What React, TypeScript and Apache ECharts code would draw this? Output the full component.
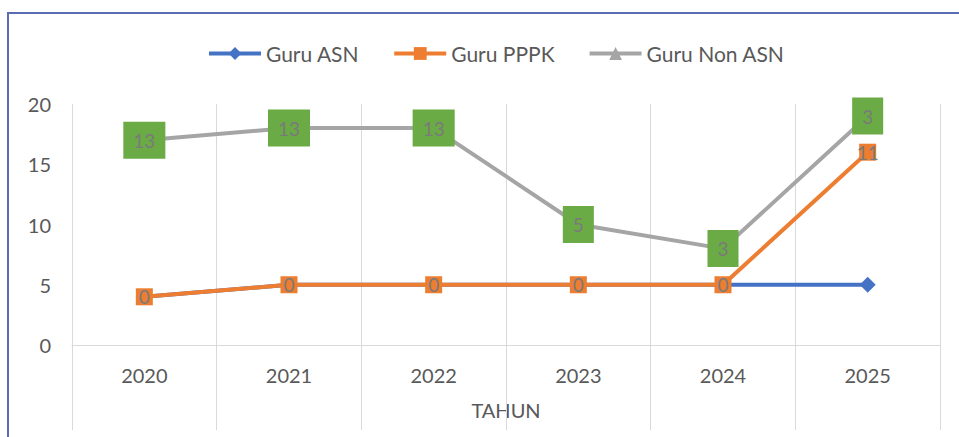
import React, { useEffect, useRef } from "react";
import * as echarts from "echarts";

const years = ["2020", "2021", "2022", "2023", "2024", "2025"];
const guruASN = [4, 5, 5, 5, 5, 5];
const guruPPPK = [0, 0, 0, 0, 0, 11];
const guruNonASN = [13, 13, 13, 5, 3, 3];
const yTicks = { min: 0, max: 20, interval: 5 };

const FONT = "Lato";
const TEXT = "#595959";
const GRIDC = "#d9d9d9";

export default function App() {
  const ref = useRef<HTMLDivElement>(null);
  useEffect(() => {
    if (!ref.current) return;
    const chart = echarts.init(ref.current, undefined, { renderer: "svg" });
    chart.setOption({
      animation: false,
      backgroundColor: "#ffffff",
      textStyle: { fontFamily: FONT },
      legend: {
        left: 202,
        top: 38,
        itemWidth: 52,
        itemHeight: 16,
        itemGap: 33,
        lineStyle: { width: 4 },
        textStyle: { fontFamily: FONT, fontSize: 21, color: TEXT },
        data: ["Guru ASN", "Guru PPPK", "Guru Non ASN"],
      },
      grid: { left: 72, right: 19, top: 104, bottom: 92 },
      xAxis: {
        type: "category",
        data: years,
        boundaryGap: true,
        name: "TAHUN",
        nameLocation: "middle",
        nameGap: 55,
        nameTextStyle: { fontFamily: FONT, fontSize: 20, color: TEXT },
        axisLine: { show: true, lineStyle: { color: GRIDC, width: 1 } },
        axisTick: { show: true, interval: 0, length: 85, lineStyle: { color: GRIDC, width: 1 } },
        axisLabel: { fontFamily: FONT, fontSize: 20, color: TEXT, margin: 20 },
        splitLine: { show: true, interval: 0, lineStyle: { color: GRIDC, width: 1 } },
      },
      yAxis: {
        type: "value",
        min: yTicks.min,
        max: yTicks.max,
        interval: yTicks.interval,
        axisLine: { show: false },
        axisTick: { show: false },
        splitLine: { show: false },
        axisLabel: { fontFamily: FONT, fontSize: 20, color: TEXT, margin: 21 },
      },
      series: [
        {
          name: "Guru ASN",
          type: "line",
          stack: "total",
          data: guruASN,
          symbol: "diamond",
          symbolSize: 16,
          itemStyle: { color: "#4472C4" },
          lineStyle: { color: "#4472C4", width: 4 },
          label: { show: false },
          z: 2,
        },
        {
          name: "Guru PPPK",
          type: "line",
          stack: "total",
          data: guruPPPK,
          symbol: "rect",
          symbolSize: 17,
          itemStyle: { color: "#ED7D31" },
          lineStyle: { color: "#ED7D31", width: 4 },
          label: {
            show: true,
            position: "inside",
            fontFamily: FONT,
            fontSize: 19,
            color: "#7a7a7a",
          },
          z: 3,
        },
        {
          name: "Guru Non ASN",
          type: "line",
          stack: "total",
          data: guruNonASN,
          symbol: "triangle",
          symbolSize: 14,
          itemStyle: { color: "#A5A5A5" },
          lineStyle: { color: "#A5A5A5", width: 4 },
          label: {
            show: true,
            position: "inside",
            fontFamily: FONT,
            fontSize: 19,
            lineHeight: 19,
            color: "#7a7a7a",
            backgroundColor: "#6aab45",
            padding: [9, 10],
          },
          z: 4,
        },
      ],
    });
    return () => chart.dispose();
  }, []);
  return (
    <div style={{ position: "fixed", left: 0, top: 0, width: 959, height: 437, background: "#fff" }}>
      <div ref={ref} style={{ position: "absolute", left: 0, top: 0, width: 959, height: 437 }} />
      <div
        style={{
          position: "absolute",
          left: 7,
          top: 12,
          width: 960,
          height: 440,
          borderLeft: "2px solid #5b6cb3",
          borderTop: "2px solid #5b6cb3",
          pointerEvents: "none",
        }}
      />
    </div>
  );
}
